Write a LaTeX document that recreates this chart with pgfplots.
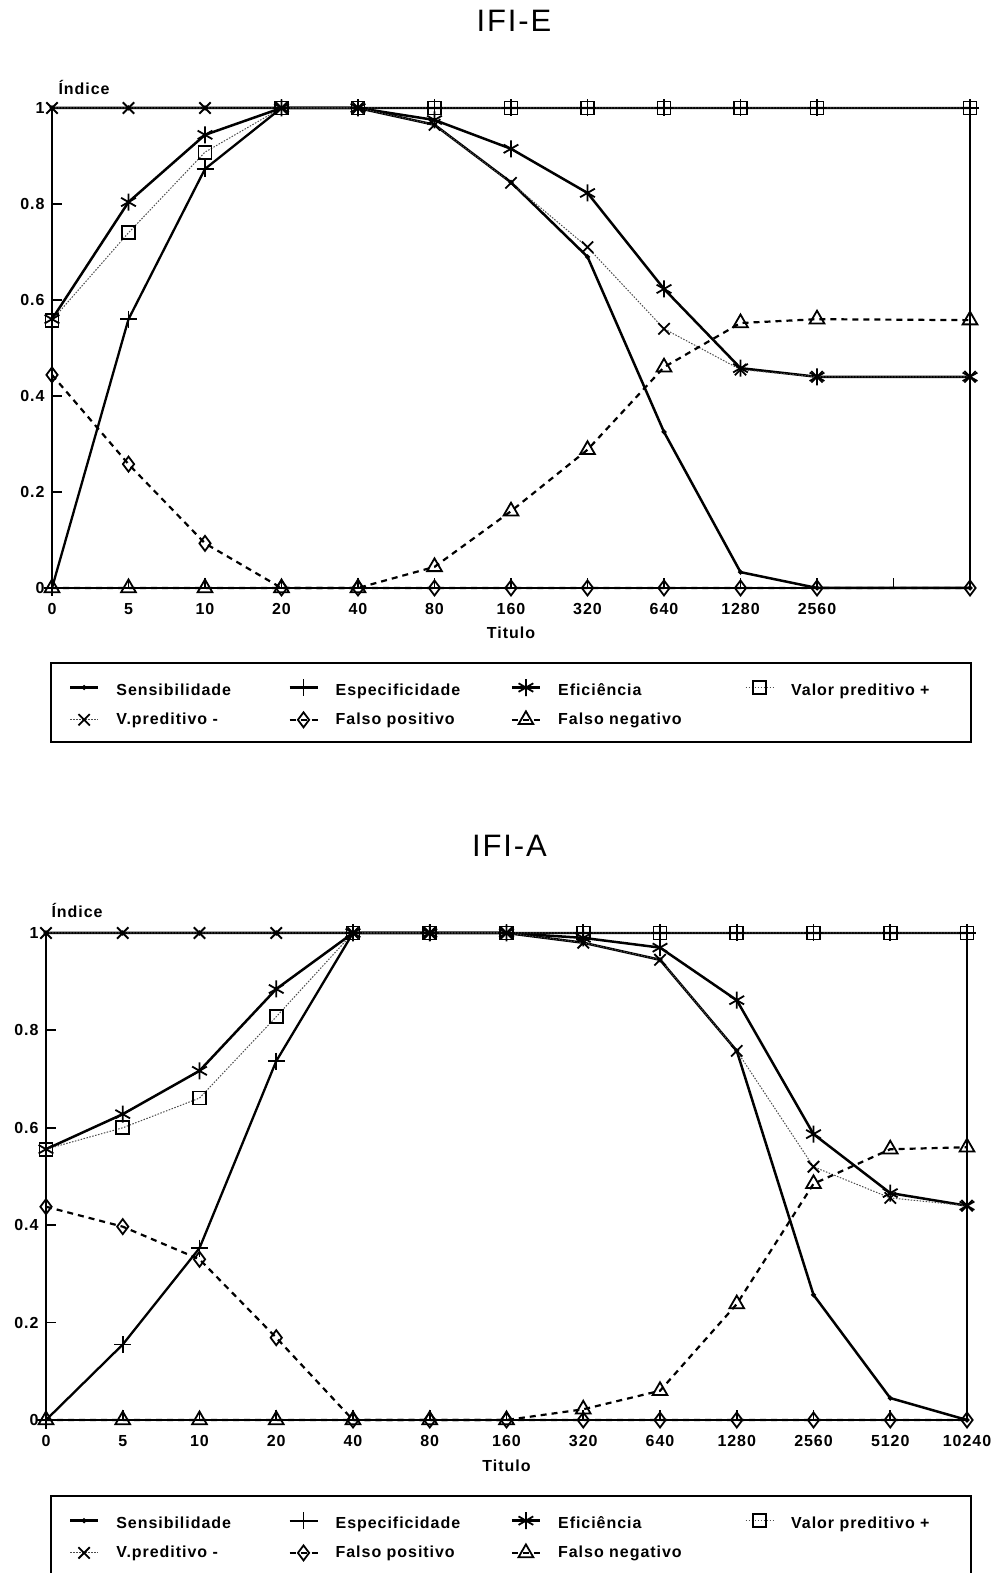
\documentclass[border=0pt]{standalone}
\usepackage{fontspec}
\setmainfont{Liberation Sans}[LetterSpace=6]
\newfontfamily\titlefont{Liberation Sans}[LetterSpace=6]
\usepackage{pgfplots}
\usepackage{pgfplotstable}
\pgfplotsset{compat=1.18}

\pgfplotstableread{
x sens espec efic vpp vpn fp fn
0 1 0 0.56 0.558 1 0.444 0
1 1 0.56 0.804 0.74 1 0.258 0
2 1 0.873 0.944 0.908 1 0.093 0
3 1 1 1 1 1 0 0
4 1 1 1 1 1 0 0
5 0.965 1 0.975 1 0.965 0 0.044
6 0.845 1 0.915 1 0.844 0 0.16
7 0.69 1 0.823 1 0.71 0 0.288
8 0.325 1 0.623 1 0.54 0 0.46
9 0.033 1 0.458 1 0.455 0 0.552
10 0 1 0.44 1 0.44 0 0.56
12 0 1 0.44 1 0.44 0 0.558
}\tabE

\pgfplotstableread{
x sens espec efic vpp vpn fp fn
0 1 0 0.556 0.556 1 0.438 0
1 1 0.155 0.628 0.60 1 0.397 0
2 1 0.353 0.717 0.661 1 0.33 0
3 1 0.737 0.885 0.828 1 0.169 0
4 1 1 1 1 1 0 0
5 1 1 1 1 1 0 0
6 1 1 1 1 1 0 0
7 0.98 1 0.99 1 0.98 0 0.022
8 0.945 1 0.97 1 0.945 0 0.06
9 0.758 1 0.862 1 0.758 0 0.238
10 0.257 1 0.587 1 0.52 0 0.485
11 0.045 1 0.466 1 0.456 0 0.556
12 0 1 0.44 1 0.44 0 0.56
}\tabA

\newcommand{\tfont}{\bfseries\fontsize{16}{19}\selectfont}

\pgfplotsset{
  panel/.style={
    scale only axis, xmin=0, xmax=12, ymin=0, ymax=1,
    enlargelimits=false, clip=false,
    axis line style={line width=2.4pt},
    xtick={0,...,12}, ytick={0,0.2,0.4,0.6,0.8,1},
    yticklabels={0,0.2,0.4,0.6,0.8,1},
    xtick pos=bottom, ytick pos=left, tick align=inside,
    major tick length=10pt,
    every tick/.style={black, line width=1.8pt},
    tick label style={font=\tfont},
    /pgf/number format/assume math mode=true,
    xticklabel style={yshift=-12pt},
    yticklabel style={xshift=-4pt},
    xlabel={Titulo},
    xlabel style={font=\tfont, at={(axis description cs:0.5,0)}, anchor=base, yshift=-51pt},
    title style={font=\titlefont\fontsize{31}{36}\selectfont, at={(axis description cs:0.5,1)}, anchor=base, yshift=70pt, xshift=3pt},
    legend columns=4,
    legend style={draw=black, line width=1.8pt, font=\tfont, inner xsep=18pt, inner ysep=15pt,
      row sep=14pt, column sep=0pt, nodes={inner sep=0pt}, anchor=north west, cells={anchor=west}},
    legend image code/.code={\draw[mark repeat=2,mark phase=2,#1] plot coordinates {(0pt,0pt) (14pt,0pt) (28pt,0pt)};},
  },
  sensS/.style={black, line width=2.5pt, solid, mark=*, mark size=1pt},
  espS/.style={black, line width=2.3pt, solid, mark=+, mark size=8.5pt, mark options={line width=1.8pt}},
  efiS/.style={black, line width=2.5pt, solid, mark=asterisk, mark size=8.5pt, mark options={line width=1.8pt}},
  vppS/.style={black!70, line width=1pt, dash pattern=on 1.5pt off 1.5pt, mark=square, mark size=6.5pt, mark options={solid, black, line width=1.8pt}},
  vpnS/.style={black!70, line width=1pt, dash pattern=on 1.5pt off 1.5pt, mark=x, mark size=8pt, mark options={solid, black, line width=1.8pt}},
  fpS/.style={black, line width=2.2pt, dash pattern=on 6pt off 5pt, mark=diamond, mark size=7.5pt, mark options={solid, line width=1.8pt}},
  fnS/.style={black, line width=2.2pt, dash pattern=on 6pt off 5pt, mark=triangle, mark size=8.5pt, mark options={solid, line width=1.8pt}},
}

\newcommand{\legent}[2]{\addlegendentry{\makebox[#1pt][l]{\hspace{17pt}#2}}}
\newcommand{\legentA}[2]{\addlegendentry{\makebox[#1pt][l]{\hspace{17pt}\rule{0pt}{18pt}#2}}}

\begin{document}
\begin{tikzpicture}
\useasboundingbox (0pt,0pt) rectangle (997pt,1573pt);

% ---- IFI-E ----
\begin{axis}[panel, at={(52pt,985pt)}, anchor=south west, width=918pt, height=480pt,
  title={IFI-E},
  xticklabels={0,5,10,20,40,80,160,320,640,1280,2560,,},
  legend style={at={(rel axis cs:-0.0022,-0.154)}}]
\addplot[sensS] table[x=x,y=sens]{\tabE}; \legentA{189}{Sensibilidade}
\addplot[espS] table[x=x,y=espec]{\tabE}; \legentA{192}{Especificidade}
\addplot[efiS] table[x=x,y=efic]{\tabE}; \legentA{204}{Eficiência}
\addplot[vppS] table[x=x,y=vpp]{\tabE}; \legentA{179}{Valor preditivo +}
\addplot[vpnS] table[x=x,y=vpn]{\tabE}; \legent{189}{V.preditivo -}
\addplot[fpS] table[x=x,y=fp]{\tabE}; \legent{192}{Falso positivo}
\addplot[fnS] table[x=x,y=fn]{\tabE}; \legent{204}{Falso negativo}
\node[anchor=base west, font=\tfont, xshift=3pt, yshift=13pt] at (rel axis cs:0,1) {Índice};
\end{axis}

% ---- IFI-A ----
\begin{axis}[panel, at={(46pt,153pt)}, anchor=south west, width=921pt, height=487pt,
  title={IFI-A},
  xticklabels={0,5,10,20,40,80,160,320,640,1280,2560,5120,10240},
  legend style={at={(rel axis cs:0.0043,-0.154)}}]
\addplot[sensS] table[x=x,y=sens]{\tabA}; \legentA{189}{Sensibilidade}
\addplot[espS] table[x=x,y=espec]{\tabA}; \legentA{192}{Especificidade}
\addplot[efiS] table[x=x,y=efic]{\tabA}; \legentA{204}{Eficiência}
\addplot[vppS] table[x=x,y=vpp]{\tabA}; \legentA{179}{Valor preditivo +}
\addplot[vpnS] table[x=x,y=vpn]{\tabA}; \legent{189}{V.preditivo -}
\addplot[fpS] table[x=x,y=fp]{\tabA}; \legent{192}{Falso positivo}
\addplot[fnS] table[x=x,y=fn]{\tabA}; \legent{204}{Falso negativo}
\node[anchor=base west, font=\tfont, xshift=2pt, yshift=15pt] at (rel axis cs:0,1) {Índice};
\end{axis}
\end{tikzpicture}
\end{document}
